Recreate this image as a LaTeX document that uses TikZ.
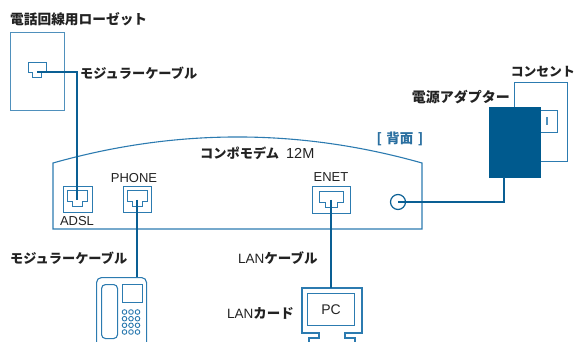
\documentclass[tikz,border=0pt]{standalone}
\usepackage{fontspec}
\setmainfont{Liberation Sans}
\newfontfamily\jp{Noto Sans CJK JP}
\definecolor{cablecol}{HTML}{0A5F94}
\definecolor{linecol}{HTML}{2C7BB0}
\definecolor{lightcol}{HTML}{4F90BC}
\definecolor{adaptcol}{HTML}{005A8E}
\definecolor{textcol}{HTML}{222222}
\definecolor{tagcol}{HTML}{2A6FA0}
\newcommand\latn[1]{{\rmfamily\mdseries\fontsize{13.5}{13.5}\selectfont #1}}
\tikzset{
  outline/.style={draw=linecol, line width=1.1pt},
  cable/.style={draw=cablecol, line width=2.2pt},
  jplabel/.style={inner sep=0pt, text=textcol, font=\jp\bfseries\fontsize{13.7}{13.7}\selectfont},
  enlabel/.style={inner sep=0pt, text=textcol, font=\fontsize{13}{13}\selectfont},
  portbox/.style={outline, minimum height=26pt, inner sep=0pt, anchor=north west},
  jack/.pic={\draw[outline, line width=1pt] (-10,0) -- (10,0) -- (10,11) -- (5,11) -- (5,16) -- (-5,16) -- (-5,11) -- (-10,11) -- cycle;}
}
\begin{document}
\begin{tikzpicture}[x=1pt, y=-1pt]
\useasboundingbox (0,0) rectangle (576,342);
\clip (0,0) rectangle (576,342);

% wall rosette with its jack
\node[jplabel, anchor=west] (rosttl) at (10,19) {電話回線用ローゼット};
\node[draw=lightcol, line width=1.1pt, minimum width=54pt, minimum height=78pt, inner sep=0pt, anchor=north west] (rosette) at (10,32) {};
\pic[scale=0.9] at (37,63) {jack};
\coordinate (rosj) at (37,72);
\node[jplabel, anchor=west, font=\jp\bfseries\fontsize{13.2}{13.2}\selectfont] (modcab1) at (80,73) {モジュラーケーブル};

% modem body (rear view)
\draw[outline] (53,229) -- (53,163) .. controls (176,128.3) and (299,128.3) .. (422,163) -- (422,229) -- cycle;
\node[jplabel, anchor=west, font=\jp\bfseries\fontsize{13.2}{13.2}\selectfont] (modemname) at (200,153) {コンポモデム\hspace{7pt}{\rmfamily\mdseries\fontsize{14.5}{14.5}\selectfont 12M}};
\node[inner sep=0pt, text=tagcol, font=\jp\bfseries\fontsize{13.5}{13.5}\selectfont] (rear) at (400,139) {[\,\,背面\,\,]};

% ports
\node[portbox, minimum width=29pt] (adsl) at (62.5,186) {};
\pic at (77,191) {jack};
\coordinate (adslj) at (77,200);
\node[enlabel] (adsllbl) at (77,221) {ADSL};

\node[portbox, minimum width=28pt] (phone) at (123,186) {};
\pic at (137,191) {jack};
\coordinate (phonej) at (137,200);
\node[enlabel] (phonelbl) at (134,178) {PHONE};

\node[portbox, minimum width=38pt, minimum height=27pt] (enet) at (312,186) {};
\pic[xscale=1.2] at (331,192) {jack};
\coordinate (enetj) at (331,200);
\node[enlabel] (enetlbl) at (331,177) {ENET};

\node[circle, draw=cablecol, line width=1.2pt, minimum size=15pt, inner sep=0pt] (pwr) at (398,202) {};

% wall outlet and power adapter
\node[jplabel, anchor=east, font=\jp\bfseries\fontsize{12.8}{12.8}\selectfont] (outlbl) at (575,72) {コンセント};
\node[outline, fill=white, minimum width=53pt, minimum height=79pt, inner sep=0pt, anchor=north west] (outlet) at (514,82) {};
\node[outline, fill=white, minimum width=17pt, minimum height=22pt, inner sep=0pt, anchor=north west] (plug) at (540,110) {};
\draw[lightcol, line width=1.2pt] (547,117) -- (547,125);
\node[fill=adaptcol, draw=adaptcol, minimum width=51pt, minimum height=70pt, inner sep=0pt, anchor=north west] (adapter) at (489,107) {};
\coordinate (adpin) at (504,177);
\node[jplabel, anchor=east, font=\jp\bfseries\fontsize{14}{14}\selectfont] (adplbl) at (510,97) {電源アダプター};

% telephone
\node[jplabel, anchor=west, font=\jp\bfseries\fontsize{13.2}{13.2}\selectfont] (modcab2) at (10,258) {モジュラーケーブル};
\node[outline, rounded corners=5pt, minimum width=50pt, minimum height=90pt, inner sep=0pt, anchor=north west] (tel) at (96,277) {};
\node[outline, rounded corners=4pt, minimum width=16pt, minimum height=54pt, inner sep=0pt, anchor=north west] (handset) at (101,284) {};
\node[outline, minimum width=20pt, minimum height=18pt, inner sep=0pt, anchor=north west] (display) at (122,284) {};
\foreach \r in {312,318.7,325.3,332}
  \foreach \c in {124.5,131,137.5}
    \draw[outline, line width=0.9pt] (\c,\r) circle (2.3);

% personal computer
\node[inner sep=0pt, text=textcol, font=\jp\fontsize{13.5}{13.5}\selectfont, anchor=west] (lancab) at (238,258) {\latn{LAN}\bfseries ケーブル};
\node[inner sep=0pt, text=textcol, font=\jp\fontsize{13.5}{13.5}\selectfont, anchor=west] (lancard) at (227,313) {\latn{LAN}\bfseries カード};
\draw[outline] (309,350) -- (309,338) -- (319,338) -- (319,333) -- (302,333) -- (302,288) -- (362,288) -- (362,333) -- (345,333) -- (345,338) -- (355,338) -- (355,350);
\coordinate (pctop) at (331,288);
\node[outline, minimum width=47pt, minimum height=32pt, inner sep=0pt, anchor=north west, font=\fontsize{14}{14}\selectfont, text=textcol] (screen) at (307,293) {PC};

% cables
\draw[cable] (rosj) -| (adslj);
\draw[cable] (phonej) -- (tel.north -| phonej);
\draw[cable] (enetj) -- (pctop);
\draw[cable] (pwr.center) -| (adpin);
\end{tikzpicture}
\end{document}
